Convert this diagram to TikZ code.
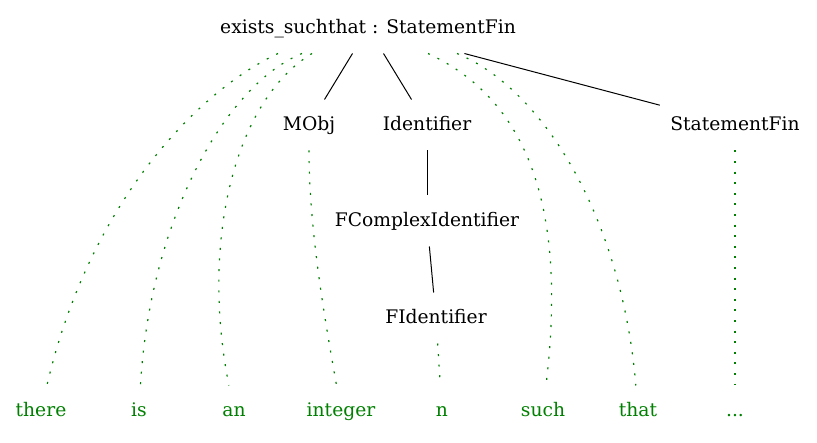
\documentclass[tikz,border=0pt]{standalone}
\usepackage{fontspec}
\setmainfont{DejaVu Serif}
\definecolor{leafgreen}{RGB}{0,128,0}
\tikzset{
    every node/.style={inner xsep=10pt, inner ysep=15pt, text height=16pt,
        text depth=4pt, font=\fontsize{18.7}{22}\selectfont}
}
\tikzset{leaf/.style={text=leafgreen}}
\tikzset{tok/.style={leafgreen, line width=1.2pt, dash pattern=on 2pt off 8.6pt}}

\begin{document}
\begin{tikzpicture}[x=1pt, y=-1pt, line width=1pt]
  \useasboundingbox (0,0) rectangle (817,443);
  \node (root) at (368,28) {exists\_suchthat : StatementFin};
  \node (mobj) at (309,125) {MObj};
  \node (ident) at (427,125) {Identifier};
  \node (stmt) at (735,125) {StatementFin};
  \node (fcid) at (427,221) {FComplexIdentifier};
  \node (fid) at (436,318) {FIdentifier};

  \node (w1) [leaf] at (41,411) {there};
  \node (w2) [leaf] at (139,411) {is};
  \node (w3) [leaf] at (234,411) {an};
  \node (w4) [leaf] at (341,411) {integer};
  \node (w5) [leaf] at (442,411) {n};
  \node (w6) [leaf] at (543,411) {such};
  \node (w7) [leaf] at (638,411) {that};
  \node (w8) [leaf] at (735,411) {...};

  \draw (root) -- (mobj); \draw (root) -- (ident); \draw (root) -- (stmt);
  \draw (ident) -- (fcid); \draw (fcid) -- (fid);

  \draw[tok] ([xshift=-90pt]root.south) .. controls (200,90) and (90,200) .. (w1);
  \draw[tok] ([xshift=-66pt]root.south) .. controls (225,85) and (150,220) .. (w2);
  \draw[tok] ([xshift=-56pt]root.south) .. controls (235,100) and (200,240) .. (w3);
  \draw[tok] (mobj) .. controls (309,230) and (325,320) .. (w4);
  \draw[tok] (fid) -- (w5);
  \draw[tok] ([xshift=60pt]root.south) .. controls (550,110) and (562,250) .. (w6);
  \draw[tok] ([xshift=89pt]root.south) .. controls (545,90) and (622,220) .. (w7);
  \draw[tok] (stmt) -- (w8);
\end{tikzpicture}
\end{document}
